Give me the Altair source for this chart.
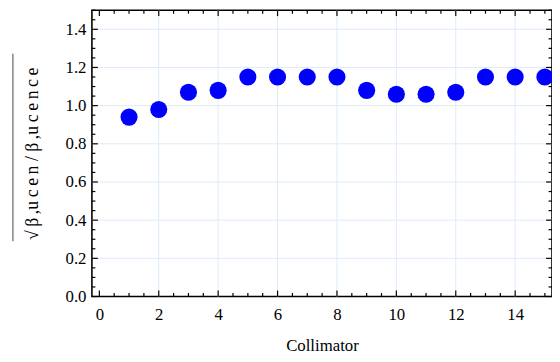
import altair as alt
import pandas as pd
import numpy as np

# data
collimator = list(range(1, 16))
ratio = [0.94, 0.98, 1.07, 1.08, 1.15, 1.15, 1.15, 1.15, 1.08, 1.06, 1.06, 1.07, 1.15, 1.15, 1.15]

x_major = [0, 2, 4, 6, 8, 10, 12, 14]
x_minor = [v for v in np.round(np.arange(0, 15.01, 0.5), 2) if v not in x_major]
y_major = [0.0, 0.2, 0.4, 0.6, 0.8, 1.0, 1.2, 1.4]
y_minor = [v for v in np.round(np.arange(0, 1.501, 0.05), 2) if not any(abs(v - m) < 1e-9 for m in y_major)]
x_grid = [2, 4, 6, 8, 10, 12, 14]
y_grid = [0.2, 0.4, 0.6, 0.8, 1.0, 1.2, 1.4]

W, H = 466, 290
XDOM = [-0.25, 15.24]
YDOM = [0, 1.5]
xs = alt.Scale(domain=XDOM, nice=False, zero=False)
ys = alt.Scale(domain=YDOM, nice=False, zero=False)

XAX = alt.Axis(values=x_major, format="d", ticks=False, domain=False, grid=False,
               labelPadding=10, titlePadding=16)
YAX = alt.Axis(values=y_major, format=".1f", ticks=False, domain=False, grid=False,
               labelPadding=6, titlePadding=24)
XT = "Collimator"
T = "\u2009"
YT = "√" + T + "β" + T + "," + T.join("ucen") + " / " + "β" + T + "," + T.join("ucence")

def X(f):
    return alt.X(f, scale=xs, axis=XAX, title=XT)

def Y(f):
    return alt.Y(f, scale=ys, axis=YAX, title=YT)

df = pd.DataFrame({"c": collimator, "r": ratio})
GRID = "#dcebfb"

gx = alt.Chart(pd.DataFrame({"v": x_grid})).mark_rule(color=GRID, strokeWidth=1).encode(x=X("v:Q"))
gy = alt.Chart(pd.DataFrame({"v": y_grid})).mark_rule(color=GRID, strokeWidth=1).encode(y=Y("v:Q"))

def xticks(vals, L):
    d = pd.DataFrame({"v": vals})
    b = alt.Chart(d).mark_rule(color="black", strokeWidth=1.2).encode(
        x=X("v:Q"), y=alt.value(H), y2=alt.value(H - L))
    t = alt.Chart(d).mark_rule(color="black", strokeWidth=1.2).encode(
        x=X("v:Q"), y=alt.value(0), y2=alt.value(L))
    return [b, t]

def yticks(vals, L):
    d = pd.DataFrame({"v": vals})
    l = alt.Chart(d).mark_rule(color="black", strokeWidth=1.2).encode(
        y=Y("v:Q"), x=alt.value(0), x2=alt.value(L))
    r = alt.Chart(d).mark_rule(color="black", strokeWidth=1.2).encode(
        y=Y("v:Q"), x=alt.value(W), x2=alt.value(W - L))
    return [l, r]

pts = alt.Chart(df).mark_circle(color="#0000ff", opacity=1, size=300, clip=True).encode(
    x=X("c:Q"), y=Y("r:Q"))

# vinculum of the square-root sign in the y title
vinc = alt.Chart(pd.DataFrame({"v": [0]})).mark_rule(color="#444444", strokeWidth=1).encode(
    x=alt.value(-80), x2=alt.value(-80), y=alt.value(44), y2=alt.value(234))

layers = [gx, gy] + xticks(x_major, 6) + xticks(x_minor, 3.5) + yticks(y_major, 6) + yticks(y_minor, 3.5) + [pts, vinc]

chart = alt.layer(*layers).properties(
    width=W, height=H,
    autosize=alt.AutoSizeParams(type="none"),
    padding={"left": 85, "top": 0, "right": 0, "bottom": 56},
).configure_view(stroke="black", strokeWidth=1.6).configure_axis(
    labelFont="Liberation Serif", labelFontSize=17, labelColor="black",
    titleFont="Liberation Serif", titleFontSize=17, titleFontWeight="normal", titleColor="black",
).configure_axisY(titleFontSize=18)

chart.save("out.html", embed_options={"renderer": "svg", "actions": False})
